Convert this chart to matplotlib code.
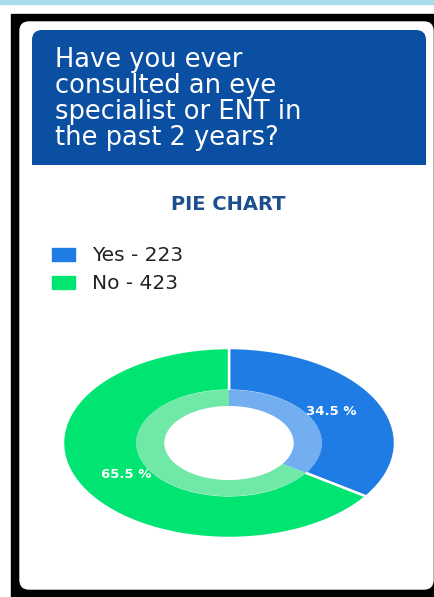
import matplotlib
matplotlib.use("Agg")
import matplotlib.pyplot as plt
from matplotlib.patches import Rectangle, FancyBboxPatch

# chart data
title_lines = ["Have you ever", "consulted an eye", "specialist or ENT in", "the past 2 years?"]
chart_name = "PIE CHART"
answers = ["Yes", "No"]
counts = [223, 423]
outer_colors = ["#1f7ce4", "#00e472"]
inner_colors = ["#72aef0", "#6fe8a8"]

W, H = 434, 597
fig = plt.figure(figsize=(W / 100, H / 100), dpi=100)
fig.patch.set_facecolor("white")

# background / phone frame, drawn in pixel coordinates
bg = fig.add_axes([0, 0, 1, 1])
bg.set_xlim(0, W)
bg.set_ylim(H, 0)
bg.axis("off")

bg.add_patch(Rectangle((0, 0), W, 4, color="#a8dcec"))
bg.add_patch(Rectangle((11, 14), W - 11, H - 14, color="black"))
bg.add_patch(FancyBboxPatch((20, 22), 413, 567, boxstyle="round,pad=0,rounding_size=9",
                            color="white"))
bg.add_patch(FancyBboxPatch((32, 30), 394, 135, boxstyle="round,pad=0,rounding_size=10",
                            color="#0b4fa2", linewidth=0))
bg.add_patch(Rectangle((32, 60), 394, 105, color="#0b4fa2", linewidth=0))

# question header
baselines = [67, 93, 119, 145]
for line, yb in zip(title_lines, baselines):
    bg.text(55, yb, line, color="white", fontsize=18.5, va="baseline", ha="left")

bg.text(228, 210, chart_name, color="#1d4f8e", fontsize=14, fontweight="bold",
        va="baseline", ha="center")

# legend
leg_y = [248, 276]
for ans, n, col, y in zip(answers, counts, outer_colors, leg_y):
    bg.add_patch(Rectangle((52, y), 23, 13, color=col))
    bg.text(92, y + 13, f"{ans} - {n}", color="#222222", fontsize=14.5,
            va="baseline", ha="left")

# donut chart (stretched into an ellipse like the photo)
ax = fig.add_axes([63 / W, 1 - 538 / H, 332 / W, 190 / H])
wedges, _, autotexts = ax.pie(counts, colors=outer_colors, startangle=90, counterclock=False,
                              radius=1.0, autopct="%.1f %%", pctdistance=0.70,
                              wedgeprops=dict(width=0.45, edgecolor="white", linewidth=1.8),
                              textprops=dict(color="white", fontsize=9.5, fontweight="bold"))
ax.pie(counts, colors=inner_colors, startangle=90, counterclock=False, radius=0.56,
       wedgeprops=dict(width=0.17, linewidth=0))
for t in autotexts:
    t.set_zorder(5)
ax.set_aspect("auto")
ax.set_xlim(-1, 1)
ax.set_ylim(-1, 1)
ax.axis("off")

fig.savefig("out.png", dpi=100)
